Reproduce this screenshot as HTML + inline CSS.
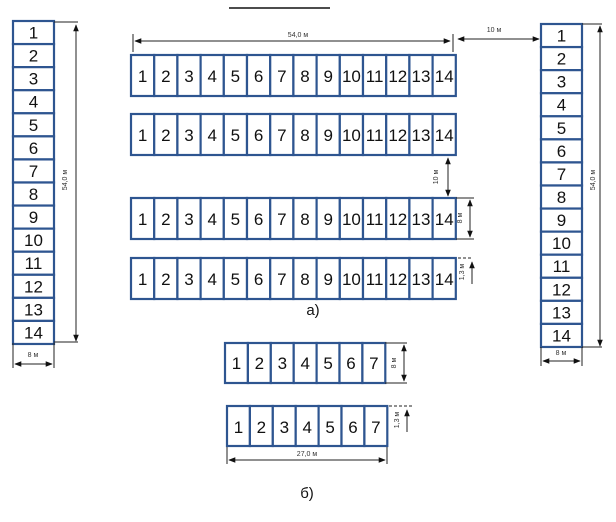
<!DOCTYPE html>
<html><head><meta charset="utf-8"><style>
html,body{margin:0;padding:0;background:#fff}
svg{display:block}
text{font-family:"Liberation Sans",sans-serif}
.n{font-size:17px;fill:#111;text-anchor:middle}
.s{font-size:7px;fill:#333;text-anchor:middle}
.c{fill:#fff;stroke:#2e5590;stroke-width:2.2}
.d{stroke:#222;stroke-width:1;fill:none}
</style></head><body>
<svg width="616" height="522" viewBox="0 0 616 522" xmlns="http://www.w3.org/2000/svg">
<defs>
<marker id="a" viewBox="0 0 10 10" refX="9" refY="5" markerWidth="7" markerHeight="7" orient="auto-start-reverse"><path d="M0,1 L10,5 L0,9 z" fill="#111"/></marker>
<g id="row14">
<rect class="c" x="0" y="0" width="23.2" height="41"/><rect class="c" x="23.2" y="0" width="23.2" height="41"/><rect class="c" x="46.4" y="0" width="23.2" height="41"/><rect class="c" x="69.6" y="0" width="23.2" height="41"/><rect class="c" x="92.8" y="0" width="23.2" height="41"/><rect class="c" x="116" y="0" width="23.2" height="41"/><rect class="c" x="139.2" y="0" width="23.2" height="41"/><rect class="c" x="162.4" y="0" width="23.2" height="41"/><rect class="c" x="185.6" y="0" width="23.2" height="41"/><rect class="c" x="208.8" y="0" width="23.2" height="41"/><rect class="c" x="232" y="0" width="23.2" height="41"/><rect class="c" x="255.2" y="0" width="23.2" height="41"/><rect class="c" x="278.4" y="0" width="23.2" height="41"/><rect class="c" x="301.6" y="0" width="23.2" height="41"/>
</g>
<g id="row7">
<rect class="c" x="0" y="0" width="22.9" height="40"/><rect class="c" x="22.9" y="0" width="22.9" height="40"/><rect class="c" x="45.8" y="0" width="22.9" height="40"/><rect class="c" x="68.7" y="0" width="22.9" height="40"/><rect class="c" x="91.6" y="0" width="22.9" height="40"/><rect class="c" x="114.5" y="0" width="22.9" height="40"/><rect class="c" x="137.4" y="0" width="22.9" height="40"/>
</g>
<g id="col">
<rect class="c" x="0" y="0" width="41" height="23.07"/><rect class="c" x="0" y="23.07" width="41" height="23.07"/><rect class="c" x="0" y="46.14" width="41" height="23.07"/><rect class="c" x="0" y="69.21" width="41" height="23.07"/><rect class="c" x="0" y="92.28" width="41" height="23.07"/><rect class="c" x="0" y="115.35" width="41" height="23.07"/><rect class="c" x="0" y="138.42" width="41" height="23.07"/><rect class="c" x="0" y="161.49" width="41" height="23.07"/><rect class="c" x="0" y="184.56" width="41" height="23.07"/><rect class="c" x="0" y="207.63" width="41" height="23.07"/><rect class="c" x="0" y="230.7" width="41" height="23.07"/><rect class="c" x="0" y="253.77" width="41" height="23.07"/><rect class="c" x="0" y="276.84" width="41" height="23.07"/><rect class="c" x="0" y="299.91" width="41" height="23.07"/>
</g>
</defs>

<line x1="229" y1="8" x2="330" y2="8" stroke="#111" stroke-width="1.5"/>

<!-- left column -->
<g transform="translate(13,21)"><use href="#col"/>
<text class="n" x="20.5" y="17.5">1</text><text class="n" x="20.5" y="40.6">2</text><text class="n" x="20.5" y="63.7">3</text><text class="n" x="20.5" y="86.7">4</text><text class="n" x="20.5" y="109.8">5</text><text class="n" x="20.5" y="132.9">6</text><text class="n" x="20.5" y="155.9">7</text><text class="n" x="20.5" y="179">8</text><text class="n" x="20.5" y="202.1">9</text><text class="n" x="20.5" y="225.2">10</text><text class="n" x="20.5" y="248.2">11</text><text class="n" x="20.5" y="271.3">12</text><text class="n" x="20.5" y="294.4">13</text><text class="n" x="20.5" y="317.4">14</text>
</g>
<!-- right column -->
<g transform="translate(541,24)"><use href="#col"/>
<text class="n" x="20.5" y="17.5">1</text><text class="n" x="20.5" y="40.6">2</text><text class="n" x="20.5" y="63.7">3</text><text class="n" x="20.5" y="86.7">4</text><text class="n" x="20.5" y="109.8">5</text><text class="n" x="20.5" y="132.9">6</text><text class="n" x="20.5" y="155.9">7</text><text class="n" x="20.5" y="179">8</text><text class="n" x="20.5" y="202.1">9</text><text class="n" x="20.5" y="225.2">10</text><text class="n" x="20.5" y="248.2">11</text><text class="n" x="20.5" y="271.3">12</text><text class="n" x="20.5" y="294.4">13</text><text class="n" x="20.5" y="317.4">14</text>
</g>

<!-- rows of 14 -->
<g transform="translate(131,55)"><use href="#row14"/>
<text class="n" x="11.6" y="27">1</text><text class="n" x="34.8" y="27">2</text><text class="n" x="58" y="27">3</text><text class="n" x="81.2" y="27">4</text><text class="n" x="104.4" y="27">5</text><text class="n" x="127.6" y="27">6</text><text class="n" x="150.8" y="27">7</text><text class="n" x="174" y="27">8</text><text class="n" x="197.2" y="27">9</text><text class="n" x="220.4" y="27">10</text><text class="n" x="243.6" y="27">11</text><text class="n" x="266.8" y="27">12</text><text class="n" x="290" y="27">13</text><text class="n" x="313.2" y="27">14</text>
</g>
<g transform="translate(131,114)"><use href="#row14"/>
<text class="n" x="11.6" y="27">1</text><text class="n" x="34.8" y="27">2</text><text class="n" x="58" y="27">3</text><text class="n" x="81.2" y="27">4</text><text class="n" x="104.4" y="27">5</text><text class="n" x="127.6" y="27">6</text><text class="n" x="150.8" y="27">7</text><text class="n" x="174" y="27">8</text><text class="n" x="197.2" y="27">9</text><text class="n" x="220.4" y="27">10</text><text class="n" x="243.6" y="27">11</text><text class="n" x="266.8" y="27">12</text><text class="n" x="290" y="27">13</text><text class="n" x="313.2" y="27">14</text>
</g>
<g transform="translate(131,198)"><use href="#row14"/>
<text class="n" x="11.6" y="27">1</text><text class="n" x="34.8" y="27">2</text><text class="n" x="58" y="27">3</text><text class="n" x="81.2" y="27">4</text><text class="n" x="104.4" y="27">5</text><text class="n" x="127.6" y="27">6</text><text class="n" x="150.8" y="27">7</text><text class="n" x="174" y="27">8</text><text class="n" x="197.2" y="27">9</text><text class="n" x="220.4" y="27">10</text><text class="n" x="243.6" y="27">11</text><text class="n" x="266.8" y="27">12</text><text class="n" x="290" y="27">13</text><text class="n" x="313.2" y="27">14</text>
</g>
<g transform="translate(131,258)"><use href="#row14"/>
<text class="n" x="11.6" y="27">1</text><text class="n" x="34.8" y="27">2</text><text class="n" x="58" y="27">3</text><text class="n" x="81.2" y="27">4</text><text class="n" x="104.4" y="27">5</text><text class="n" x="127.6" y="27">6</text><text class="n" x="150.8" y="27">7</text><text class="n" x="174" y="27">8</text><text class="n" x="197.2" y="27">9</text><text class="n" x="220.4" y="27">10</text><text class="n" x="243.6" y="27">11</text><text class="n" x="266.8" y="27">12</text><text class="n" x="290" y="27">13</text><text class="n" x="313.2" y="27">14</text>
</g>

<!-- rows of 7 -->
<g transform="translate(225,343)"><use href="#row7"/>
<text class="n" x="11.5" y="26">1</text><text class="n" x="34.4" y="26">2</text><text class="n" x="57.3" y="26">3</text><text class="n" x="80.2" y="26">4</text><text class="n" x="103.1" y="26">5</text><text class="n" x="126" y="26">6</text><text class="n" x="148.9" y="26">7</text>
</g>
<g transform="translate(227,406)"><use href="#row7"/>
<text class="n" x="11.5" y="27">1</text><text class="n" x="34.4" y="27">2</text><text class="n" x="57.3" y="27">3</text><text class="n" x="80.2" y="27">4</text><text class="n" x="103.1" y="27">5</text><text class="n" x="126" y="27">6</text><text class="n" x="148.9" y="27">7</text>
</g>

<!-- dimensions left column -->
<line class="d" x1="54" y1="22" x2="78" y2="22"/>
<line class="d" x1="76" y1="341" x2="76" y2="25" marker-start="url(#a)" marker-end="url(#a)"/>
<line class="d" x1="54" y1="342" x2="78" y2="342"/>
<text class="s" transform="translate(67,180) rotate(-90)">54,0 м</text>
<line class="d" x1="13" y1="343" x2="13" y2="368"/><line class="d" x1="54" y1="343" x2="54" y2="368"/>
<line class="d" x1="15" y1="364" x2="52" y2="364" marker-start="url(#a)" marker-end="url(#a)"/>
<text class="s" x="33" y="357">8 м</text>

<!-- top 54 -->
<line class="d" x1="133" y1="34" x2="133" y2="52"/>
<line class="d" x1="453" y1="34" x2="453" y2="52"/>
<line class="d" x1="135" y1="41" x2="450" y2="41" marker-start="url(#a)" marker-end="url(#a)"/>
<text class="s" x="298" y="37">54,0 м</text>
<!-- 10 m horizontal -->
<line class="d" x1="458" y1="39" x2="539" y2="39" marker-start="url(#a)" marker-end="url(#a)"/>
<text class="s" x="494" y="32">10 м</text>

<!-- right column 54 -->
<line class="d" x1="582" y1="24" x2="602" y2="24"/>
<line class="d" x1="600" y1="26" x2="600" y2="346" marker-start="url(#a)" marker-end="url(#a)"/>
<line class="d" x1="582" y1="347" x2="602" y2="347"/>
<text class="s" transform="translate(595,180) rotate(-90)">54,0 м</text>
<line class="d" x1="541" y1="347" x2="541" y2="366"/><line class="d" x1="582" y1="347" x2="582" y2="366"/>
<line class="d" x1="543" y1="361" x2="580" y2="361" marker-start="url(#a)" marker-end="url(#a)"/>
<text class="s" x="561" y="355">8 м</text>

<!-- 10 m vertical -->
<line class="d" x1="448" y1="158" x2="448" y2="196" marker-start="url(#a)" marker-end="url(#a)"/>
<text class="s" transform="translate(438,177) rotate(-90)">10 м</text>
<!-- 8 m row3 -->
<line class="d" x1="456" y1="198" x2="474" y2="198"/><line class="d" x1="456" y1="239" x2="474" y2="239"/>
<line class="d" x1="470" y1="200" x2="470" y2="237" marker-start="url(#a)" marker-end="url(#a)"/>
<text class="s" transform="translate(462,218) rotate(-90)">8 м</text>
<!-- 1.3 m row4 -->
<line class="d" x1="458" y1="258" x2="472" y2="258" stroke-dasharray="3,2"/>
<line class="d" x1="472" y1="284" x2="472" y2="262" marker-end="url(#a)"/>
<text class="s" transform="translate(464,272) rotate(-90)">1,3 м</text>
<text x="313" y="315" font-size="15" text-anchor="middle" fill="#111">а)</text>

<!-- bottom dims -->
<line class="d" x1="385" y1="343" x2="407" y2="343"/><line class="d" x1="385" y1="383" x2="407" y2="383"/>
<line class="d" x1="404" y1="345" x2="404" y2="381" marker-start="url(#a)" marker-end="url(#a)"/>
<text class="s" transform="translate(396,363) rotate(-90)">8 м</text>
<line class="d" x1="389" y1="406" x2="412" y2="406" stroke-dasharray="3,2"/>
<line class="d" x1="407" y1="432" x2="407" y2="410" marker-end="url(#a)"/>
<text class="s" transform="translate(399,420) rotate(-90)">1,3 м</text>
<line class="d" x1="227" y1="447" x2="227" y2="464"/><line class="d" x1="387" y1="447" x2="387" y2="464"/>
<line class="d" x1="229" y1="460" x2="385" y2="460" marker-start="url(#a)" marker-end="url(#a)"/>
<text class="s" x="307" y="456">27,0 м</text>
<text x="307" y="498" font-size="15" text-anchor="middle" fill="#111">б)</text>
</svg>
</body></html>
